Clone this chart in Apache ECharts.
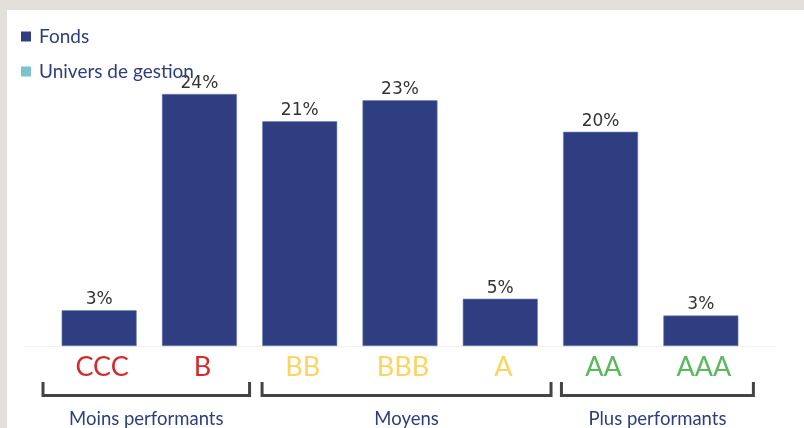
<!DOCTYPE html>
<html><head><meta charset="utf-8">
<script src="https://cdn.jsdelivr.net/npm/echarts@6/dist/echarts.min.js"></script>
<style>html,body{margin:0;padding:0;background:#e3dfdb}#c{width:804px;height:428px}</style>
</head><body><div id="c"></div>
<script>
const categories = ['CCC', 'B', 'BB', 'BBB', 'A', 'AA', 'AAA'];
const fondsValues = [3.4, 24.0, 21.4, 23.4, 4.5, 20.4, 2.9];
const universValues = [];
const seriesNames = ['Fonds', 'Univers de gestion'];
const categoryColors = ['#d42a2c', '#d42a2c', '#ffd35f', '#ffd35f', '#ffd35f', '#5cb85c', '#5cb85c'];
const groupNames = ['Moins performants', 'Moyens', 'Plus performants'];
const groupStart = [0, 2, 5];
const groupEnd = [1, 4, 6];
const groupPadStart = [-6, 12.5, 11];
const groupPadEnd = [0, 0.6, 2.4];

const chart = echarts.init(document.getElementById('c'), null, {renderer: 'canvas'});
const navy = '#2e3d7c';
chart.setOption({
  backgroundColor: '#e3dfdb',
  animation: false,
  legend: {
    orient: 'vertical', left: 16, top: 22, itemWidth: 10, itemHeight: 10, itemGap: 16,
    icon: 'rect',
    data: seriesNames,
    itemStyle: {borderWidth: 0},
    textStyle: {fontFamily: 'Lato', fontSize: 19, color: navy, padding: [0, 0, 0, 3]}
  },
  grid: {left: 49, right: 53, top: 31, bottom: 82, containLabel: false},
  xAxis: {
    type: 'category', data: categories,
    axisLine: {show: false}, axisTick: {show: false},
    axisLabel: {
      margin: 8, fontFamily: 'Lato', fontSize: 27, padding: [0, 0, 0, 6],
      color: (v, i) => categoryColors[i]
    }
  },
  yAxis: {type: 'value', min: 0, max: 30, show: false, splitLine: {show: false}},
  series: [
    {
      name: seriesNames[0], type: 'bar', stack: 's', data: fondsValues, barWidth: 75,
      itemStyle: {color: '#2e3e80', borderColor: '#6f7fb5', borderWidth: 0.6},
      label: {
        show: true, position: 'top', distance: 2,
        fontFamily: 'DejaVu Sans', fontSize: 17, color: '#333',
        formatter: p => Math.round(p.value) + '%'
      }
    },
    {
      name: seriesNames[1], type: 'bar', stack: 's', data: universValues, barWidth: 75,
      itemStyle: {color: '#7cc3cc'}
    }
  ]
});

function drawDecor() {
  const c0 = chart.convertToPixel({xAxisIndex: 0}, 0);
  const c1 = chart.convertToPixel({xAxisIndex: 0}, 1);
  const band = c1 - c0;
  const yBase = chart.convertToPixel({yAxisIndex: 0}, 0);
  const elements = [
    {type: 'rect', z: -10, silent: true, shape: {x: 7, y: 10, width: 804, height: 428}, style: {fill: '#ffffff'}},
    {type: 'line', z: 1, silent: true, shape: {x1: 24, y1: yBase + 0.5, x2: 775, y2: yBase + 0.5}, style: {stroke: '#f0f0f0', lineWidth: 1}}
  ];
  const yTop = yBase + 36, yBot = yBase + 49.5;
  groupNames.forEach((name, g) => {
    const xs = chart.convertToPixel({xAxisIndex: 0}, groupStart[g]) - band / 2 + groupPadStart[g];
    const xe = chart.convertToPixel({xAxisIndex: 0}, groupEnd[g]) + band / 2 + groupPadEnd[g];
    elements.push({
      type: 'polyline', silent: true,
      shape: {points: [[xs, yTop], [xs, yBot], [xe, yBot], [xe, yTop]]},
      style: {stroke: '#444', lineWidth: 3, fill: null}
    });
    elements.push({
      type: 'text', silent: true, x: (xs + xe) / 2, y: yBase + 73.5,
      style: {text: name, fill: navy, font: '18.5px Lato', align: 'center', verticalAlign: 'middle'}
    });
  });
  chart.setOption({graphic: elements});
}
drawDecor();
</script></body></html>
